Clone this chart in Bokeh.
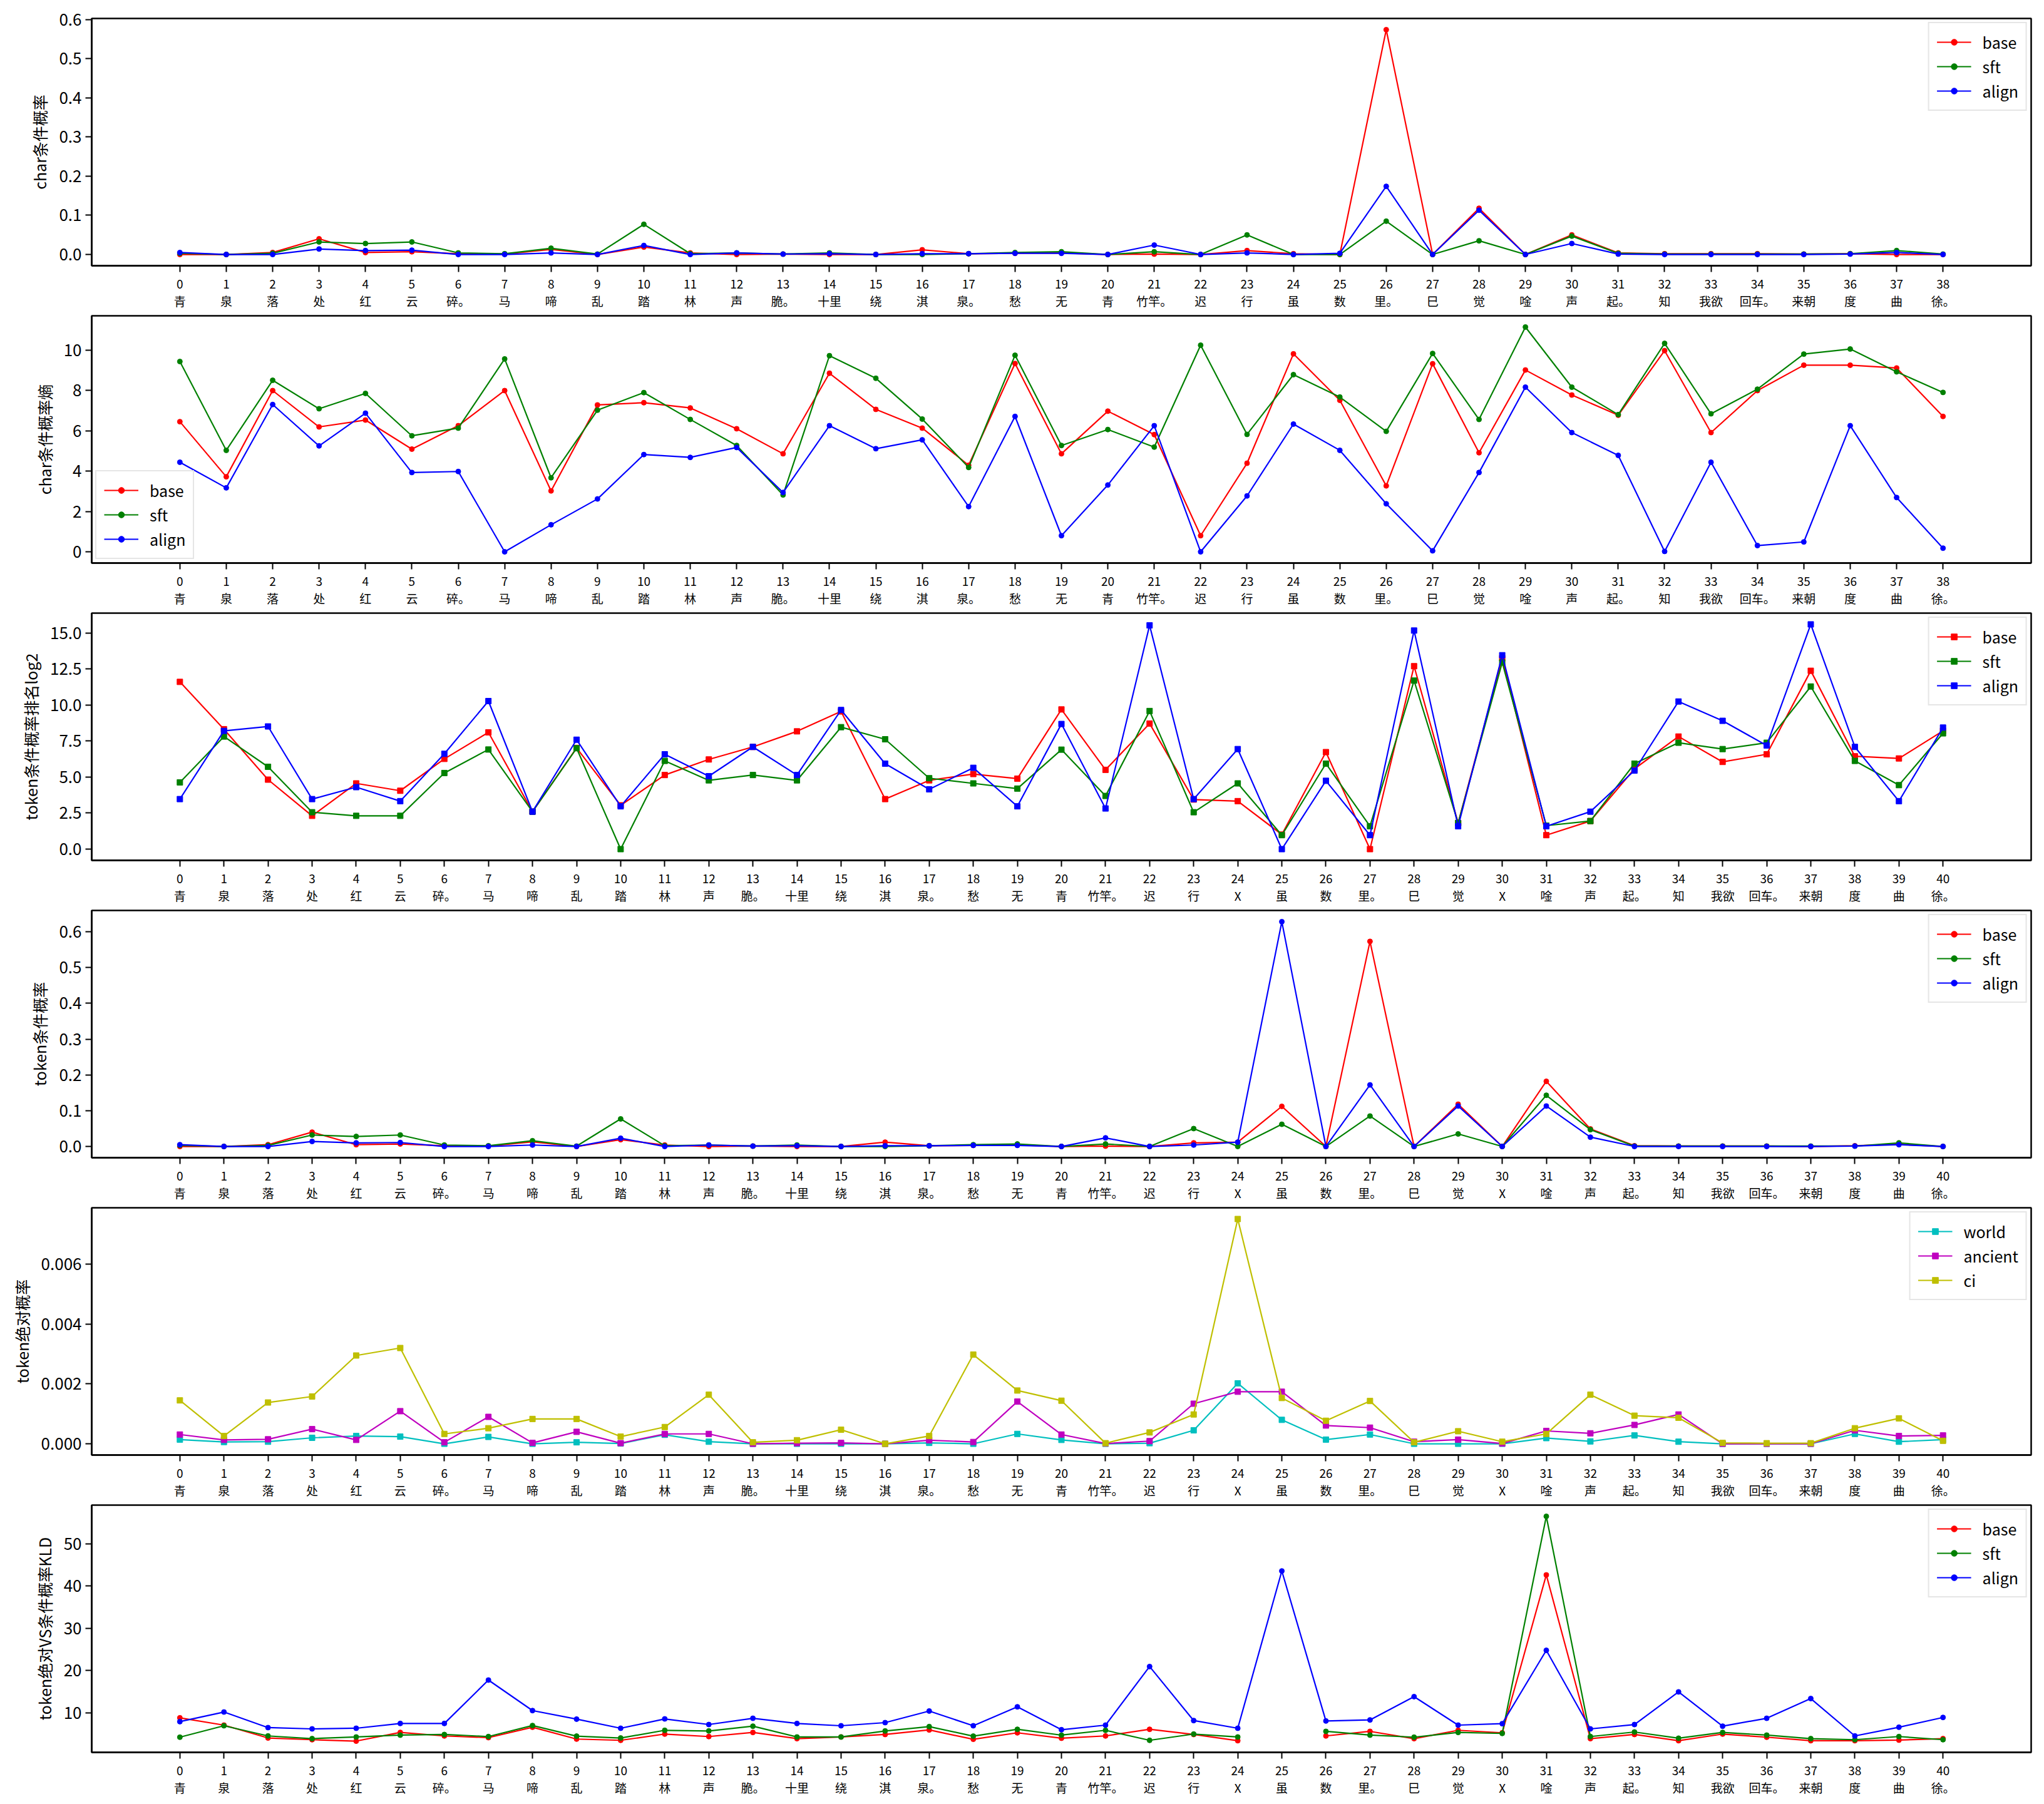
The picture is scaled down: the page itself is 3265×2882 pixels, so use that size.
import numpy as np
from bokeh.plotting import figure
from bokeh.models import Range1d, FixedTicker, Legend, LegendItem, PrintfTickFormatter
from bokeh.layouts import column
from bokeh.embed import file_html
from bokeh.resources import INLINE

FONT = "Noto Sans CJK SC"

# ---------------- data ----------------
char_labels = ["青", "泉", "落", "处", "红", "云", "碎。", "马", "啼", "乱", "踏", "林", "声", "脆。",
               "十里", "绕", "淇", "泉。", "愁", "无", "青", "竹竿。", "迟", "行", "虽", "数", "里。",
               "巳", "觉", "唫", "声", "起。", "知", "我欲", "回车。", "来朝", "度", "曲", "徐。"]
token_labels = ["青", "泉", "落", "处", "红", "云", "碎。", "马", "啼", "乱", "踏", "林", "声", "脆。",
                "十里", "绕", "淇", "泉。", "愁", "无", "青", "竹竿。", "迟", "行", "X", "虽", "数",
                "里。", "巳", "觉", "X", "唫", "声", "起。", "知", "我欲", "回车。", "来朝", "度", "曲", "徐。"]

# panel 1: char conditional probability
char_prob_base = [0.0, 0.0, 0.005, 0.04, 0.005, 0.007, 0.002, 0.001, 0.013, 0.0, 0.019, 0.004, 0.0, 0.001,
                  0.0, 0.0, 0.012, 0.002, 0.003, 0.004, 0.0, 0.001, 0.0, 0.01, 0.002, 0.0, 0.574, 0.0,
                  0.118, 0.0, 0.05, 0.004, 0.002, 0.002, 0.002, 0.001, 0.002, 0.0, 0.0]
char_prob_sft = [0.003, 0.0, 0.003, 0.032, 0.028, 0.032, 0.004, 0.002, 0.016, 0.001, 0.077, 0.002, 0.004,
                 0.001, 0.004, 0.0, 0.0, 0.002, 0.005, 0.007, 0.0, 0.007, 0.0, 0.05, 0.0, 0.0, 0.085, 0.0,
                 0.035, 0.0, 0.047, 0.003, 0.001, 0.001, 0.001, 0.001, 0.002, 0.01, 0.001]
char_prob_align = [0.005, 0.0, 0.0, 0.014, 0.01, 0.011, 0.0, 0.0, 0.004, 0.0, 0.023, 0.0, 0.004, 0.001,
                   0.002, 0.0, 0.002, 0.002, 0.003, 0.003, 0.0, 0.024, 0.0, 0.004, 0.0, 0.003, 0.174, 0.0,
                   0.113, 0.0, 0.028, 0.001, 0.0, 0.0, 0.0, 0.0, 0.001, 0.005, 0.0]

# panel 2: char conditional probability entropy
char_ent_base = [6.45, 3.72, 7.99, 6.19, 6.53, 5.09, 6.25, 7.99, 3.02, 7.28, 7.39, 7.13, 6.10, 4.86,
                 8.85, 7.06, 6.13, 4.29, 9.33, 4.86, 6.97, 5.81, 0.80, 4.39, 9.81, 7.51, 3.27, 9.32,
                 4.91, 9.01, 7.77, 6.77, 9.97, 5.91, 7.99, 9.25, 9.25, 9.11, 6.71]
char_ent_sft = [9.43, 5.03, 8.50, 7.09, 7.85, 5.75, 6.13, 9.56, 3.67, 7.02, 7.89, 6.56, 5.27, 2.82,
                9.72, 8.60, 6.58, 4.18, 9.74, 5.27, 6.06, 5.19, 10.24, 5.82, 8.78, 7.67, 5.97, 9.83,
                6.56, 11.14, 8.16, 6.80, 10.33, 6.84, 8.06, 9.80, 10.05, 8.92, 7.90]
char_ent_align = [4.44, 3.17, 7.30, 5.25, 6.87, 3.93, 3.98, 0.0, 1.34, 2.62, 4.82, 4.68, 5.17, 2.94,
                  6.25, 5.11, 5.55, 2.24, 6.71, 0.80, 3.31, 6.25, 0.0, 2.77, 6.33, 5.03, 2.38, 0.05,
                  3.93, 8.16, 5.91, 4.78, 0.02, 4.44, 0.31, 0.49, 6.25, 2.69, 0.18]

# panel 3: token conditional probability rank (log2)
tok_rank_base = [11.60, 8.32, 4.82, 2.31, 4.56, 4.05, 6.26, 8.10, 2.60, 7.02, 3.04, 5.14, 6.22, 7.09,
                 8.17, 9.55, 3.47, 4.77, 5.21, 4.89, 9.69, 5.50, 8.71, 3.44, 3.33, 1.01, 6.73, 0.0,
                 12.69, 1.81, 13.24, 0.97, 1.95, 5.57, 7.81, 6.05, 6.58, 12.37, 6.44, 6.29, 8.20]
tok_rank_sft = [4.63, 7.81, 5.71, 2.56, 2.31, 2.31, 5.28, 6.91, 2.60, 7.00, 0.0, 6.12, 4.77, 5.14,
                4.77, 8.46, 7.62, 4.92, 4.56, 4.20, 6.90, 3.69, 9.58, 2.56, 4.56, 0.97, 5.93, 1.59,
                11.69, 1.81, 12.95, 1.63, 1.95, 5.93, 7.38, 6.94, 7.38, 11.28, 6.12, 4.44, 8.03]
tok_rank_align = [3.47, 8.20, 8.51, 3.47, 4.30, 3.33, 6.61, 10.27, 2.60, 7.59, 2.97, 6.58, 5.06, 7.09,
                  5.14, 9.65, 5.93, 4.15, 5.64, 2.97, 8.68, 2.82, 15.52, 3.47, 6.94, 0.0, 4.74, 0.97,
                  15.16, 1.59, 13.45, 1.59, 2.60, 5.45, 10.24, 8.90, 7.19, 15.59, 7.09, 3.33, 8.43]

# panel 4: token conditional probability
tok_prob_base = [0.0, 0.0, 0.005, 0.04, 0.005, 0.007, 0.002, 0.001, 0.013, 0.0, 0.019, 0.004, 0.0, 0.001,
                 0.0, 0.0, 0.012, 0.002, 0.003, 0.004, 0.0, 0.001, 0.0, 0.01, 0.012, 0.112, 0.0, 0.573,
                 0.0, 0.118, 0.0, 0.182, 0.049, 0.002, 0.001, 0.001, 0.001, 0.0, 0.002, 0.006, 0.0]
tok_prob_sft = [0.003, 0.0, 0.003, 0.032, 0.028, 0.032, 0.004, 0.002, 0.016, 0.001, 0.077, 0.002, 0.004,
                0.001, 0.004, 0.0, 0.0, 0.002, 0.005, 0.007, 0.0, 0.007, 0.0, 0.05, 0.0, 0.062, 0.0,
                0.085, 0.0, 0.035, 0.0, 0.143, 0.047, 0.001, 0.001, 0.001, 0.001, 0.001, 0.001, 0.01, 0.0]
tok_prob_align = [0.005, 0.0, 0.0, 0.014, 0.01, 0.011, 0.0, 0.0, 0.004, 0.0, 0.023, 0.0, 0.004, 0.001,
                  0.002, 0.0, 0.002, 0.002, 0.003, 0.003, 0.0, 0.024, 0.0, 0.004, 0.012, 0.628, 0.0,
                  0.172, 0.0, 0.113, 0.0, 0.113, 0.026, 0.0, 0.0, 0.0, 0.0, 0.0, 0.001, 0.005, 0.0]

# panel 5: token absolute probability
abs_world = [0.00014, 0.00006, 0.00007, 0.00020, 0.00026, 0.00024, 0.0, 0.00023, 0.0, 0.00005, 0.00001,
             0.00030, 0.00007, 0.0, 0.0, 0.0, 0.0, 0.00003, 0.0, 0.00033, 0.00013, 0.0, 0.00002,
             0.00045, 0.00202, 0.00080, 0.00014, 0.00031, 0.0, 0.0, 0.0, 0.00019, 0.00008, 0.00028,
             0.00007, 0.0, 0.0, 0.0, 0.00033, 0.00007, 0.00014]
abs_ancient = [0.00031, 0.00013, 0.00015, 0.00049, 0.00013, 0.00109, 0.00005, 0.00090, 0.00003, 0.00040,
               0.00002, 0.00033, 0.00033, 0.0, 0.00002, 0.00003, 0.0, 0.00012, 0.00006, 0.00141, 0.00031,
               0.00001, 0.00009, 0.00134, 0.00174, 0.00174, 0.00061, 0.00054, 0.00007, 0.00014, 0.00001,
               0.00043, 0.00035, 0.00063, 0.00098, 0.0, 0.0, 0.0, 0.00045, 0.00026, 0.00028]
abs_ci = [0.00145, 0.00026, 0.00138, 0.00158, 0.00295, 0.00320, 0.00033, 0.00052, 0.00083, 0.00083,
          0.00024, 0.00056, 0.00164, 0.00005, 0.00012, 0.00047, 0.0, 0.00026, 0.00298, 0.00178, 0.00144,
          0.00002, 0.00038, 0.00098, 0.00751, 0.00153, 0.00077, 0.00143, 0.00005, 0.00042, 0.00007,
          0.00033, 0.00164, 0.00094, 0.00087, 0.00003, 0.00002, 0.00002, 0.00052, 0.00085, 0.00010]

# panel 6: KLD of token absolute vs conditional probability
nan = float("nan")
kld_base = [8.76, 7.04, 3.99, 3.59, 3.25, 5.31, 4.48, 4.08, 6.54, 3.74, 3.44, 4.92, 4.33, 5.31, 3.84,
            4.23, 4.82, 5.90, 3.69, 5.22, 3.94, 4.48, 6.05, 4.82, 3.35, nan, 4.48, 5.56, 3.84, 5.81,
            5.22, 42.61, 3.84, 4.82, 3.35, 4.92, 4.18, 3.35, 3.35, 3.49, 3.84]
kld_sft = [4.18, 6.89, 4.48, 3.84, 4.23, 4.67, 4.82, 4.33, 6.94, 4.43, 3.99, 5.81, 5.66, 6.79, 4.23,
           4.23, 5.66, 6.69, 4.43, 6.05, 4.67, 5.81, 3.44, 4.92, 4.23, nan, 5.56, 4.67, 4.18, 5.31,
           5.07, 56.48, 4.33, 5.41, 3.94, 5.31, 4.67, 3.84, 3.59, 4.33, 3.59]
kld_align = [7.87, 10.14, 6.45, 6.15, 6.30, 7.43, 7.43, 17.71, 10.48, 8.46, 6.30, 8.51, 7.18, 8.66, 7.43,
             6.89, 7.63, 10.38, 6.89, 11.37, 5.95, 7.04, 20.91, 8.12, 6.30, 43.54, 8.02, 8.27, 13.78,
             7.04, 7.38, 24.75, 6.15, 7.18, 14.91, 6.79, 8.66, 13.33, 4.48, 6.54, 8.86]

model_names = ["base", "sft", "align"]
model_colors = ["#ff0000", "#008000", "#0000ff"]
corpus_names = ["world", "ancient", "ci"]
corpus_colors = ["#00bfbf", "#bf00bf", "#bfbf00"]

# ---------------- layout constants ----------------
FRAME_W = 3098
FRAME_H = 395
BORDER_L = 146
BORDER_R = 18
FIG_W = BORDER_L + FRAME_W + BORDER_R
BORDER_B = 76


def make_panel(labels, series, names, colors, ylabel, yticks, yfmt, marker, msize,
               legend_loc, top_border):
    n = len(labels)
    N = n - 1
    allv = np.concatenate([np.asarray(s, dtype=float) for s in series])
    lo, hi = np.nanmin(allv), np.nanmax(allv)
    pad = 0.05 * (hi - lo)
    p = figure(width=FIG_W, height=top_border + FRAME_H + BORDER_B,
               output_backend="svg", toolbar_location=None,
               x_range=Range1d(-0.05 * N, 1.05 * N), y_range=Range1d(lo - pad, hi + pad),
               min_border_left=BORDER_L, min_border_right=BORDER_R,
               min_border_top=top_border, min_border_bottom=BORDER_B)
    p.xgrid.visible = False
    p.ygrid.visible = False
    p.background_fill_color = "white"
    p.border_fill_color = "white"
    p.outline_line_color = "black"
    p.outline_line_width = 2.5
    p.outline_line_alpha = 1.0

    xs = np.arange(n)
    items = []
    for s, name, col in zip(series, names, colors):
        ys = np.asarray(s, dtype=float)
        lr = p.line(xs, ys, line_color=col, line_width=2.2)
        sr = p.scatter(xs, ys, marker=marker, size=msize, fill_color=col, line_color=col)
        items.append(LegendItem(label=name, renderers=[lr, sr]))

    # x axis
    xa = p.xaxis[0]
    xa.ticker = FixedTicker(ticks=list(range(n)))
    xa.major_label_overrides = {i: f"{i}\n{labels[i]}" for i in range(n)}
    xa.major_label_text_font = FONT
    xa.major_label_text_font_size = "19px"
    xa.major_label_text_line_height = 1.05
    xa.major_label_text_color = "black"
    xa.major_label_standoff = 4
    xa.major_tick_in = 0
    xa.major_tick_out = 10
    xa.major_tick_line_width = 2
    xa.minor_tick_line_color = None
    xa.axis_line_width = 2.5

    # y axis
    ya = p.yaxis[0]
    ya.ticker = FixedTicker(ticks=yticks)
    ya.formatter = PrintfTickFormatter(format=yfmt)
    ya.major_label_text_font = FONT
    ya.major_label_text_font_size = "26px"
    ya.major_label_text_color = "black"
    ya.major_label_standoff = 6
    ya.major_tick_in = 0
    ya.major_tick_out = 10
    ya.major_tick_line_width = 2
    ya.minor_tick_line_color = None
    ya.axis_line_width = 2.5
    ya.axis_label = ylabel
    ya.axis_label_text_font = FONT
    ya.axis_label_text_font_size = "25px"
    ya.axis_label_text_font_style = "normal"
    ya.axis_label_text_color = "black"
    ya.axis_label_standoff = 10

    leg = Legend(items=items, location=legend_loc)
    leg.label_text_font = FONT
    leg.label_text_font_size = "25px"
    leg.label_text_color = "black"
    leg.glyph_width = 55
    leg.glyph_height = 24
    leg.label_height = 24
    leg.label_standoff = 18
    leg.spacing = 3
    leg.padding = 12
    leg.margin = 6
    leg.border_line_color = "#cccccc"
    leg.border_line_width = 2
    leg.background_fill_alpha = 0.8
    p.add_layout(leg)
    return p


TOP_FIRST = 29
TOP_REST = 475 - FRAME_H - BORDER_B

p1 = make_panel(char_labels, [char_prob_base, char_prob_sft, char_prob_align], model_names, model_colors,
                "char条件概率", [0.0, 0.1, 0.2, 0.3, 0.4, 0.5, 0.6], "%.1f", "circle", 8, "top_right",
                TOP_FIRST)
p2 = make_panel(char_labels, [char_ent_base, char_ent_sft, char_ent_align], model_names, model_colors,
                "char条件概率熵", [0, 2, 4, 6, 8, 10], "%d", "circle", 8, "bottom_left", TOP_REST)
p3 = make_panel(token_labels, [tok_rank_base, tok_rank_sft, tok_rank_align], model_names, model_colors,
                "token条件概率排名log2", [0.0, 2.5, 5.0, 7.5, 10.0, 12.5, 15.0], "%.1f", "square", 9,
                "top_right", TOP_REST)
p4 = make_panel(token_labels, [tok_prob_base, tok_prob_sft, tok_prob_align], model_names, model_colors,
                "token条件概率", [0.0, 0.1, 0.2, 0.3, 0.4, 0.5, 0.6], "%.1f", "circle", 8, "top_right",
                TOP_REST)
p5 = make_panel(token_labels, [abs_world, abs_ancient, abs_ci], corpus_names, corpus_colors,
                "token绝对概率", [0.0, 0.002, 0.004, 0.006], "%.3f", "square", 9, "top_right", TOP_REST)
p6 = make_panel(token_labels, [kld_base, kld_sft, kld_align], model_names, model_colors,
                "token绝对VS条件概率KLD", [10, 20, 30, 40, 50], "%d", "circle", 8, "top_right", TOP_REST)

layout = column(p1, p2, p3, p4, p5, p6, spacing=0)

open("out.html", "w", encoding="utf-8").write(file_html(layout, INLINE, title="chart"))
